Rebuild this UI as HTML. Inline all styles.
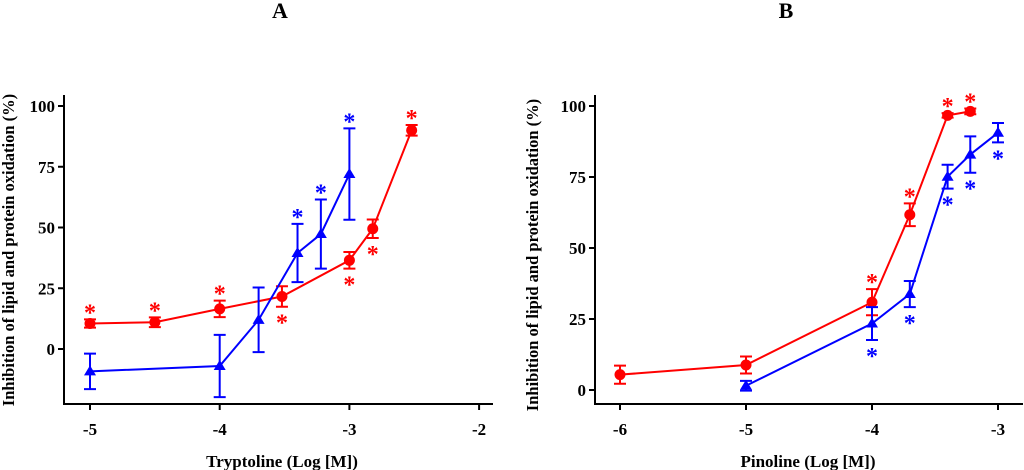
<!DOCTYPE html>
<html><head><meta charset="utf-8"><style>
body{margin:0;background:#fff;}
svg{display:block;}
svg text{font-family:"Liberation Serif","Times New Roman",serif;font-weight:bold;}
</style></head><body>
<svg id="chart" width="1024" height="470" viewBox="0 0 1024 470"></svg>
<script>
// Panel A data (Tryptoline)
const aRedX=[-5,-4.5,-4,-3.52,-3,-2.82,-2.52];
const aRedY=[10.5,11,16.5,21.6,36.5,49.5,90];
const aRedE=[1.7,2,3.4,4.2,3.4,3.8,2.2];
const aRedStar=[1,1,1,-1,-1,-1,1];
const aBlueX=[-5,-4,-3.7,-3.4,-3.22,-3];
const aBlueY=[-9.2,-7,12,39.5,47.3,72];
const aBlueE=[7.3,12.8,13.3,12,14.2,18.8];
const aBlueStar=[0,0,0,1,1,1];
const aXTicks=[-5,-4,-3,-2];
const aYTicks=[0,25,50,75,100];
// Panel B data (Pinoline)
const bRedX=[-6,-5,-4,-3.7,-3.4,-3.22];
const bRedY=[5.4,8.8,30.9,61.7,96.7,98.1];
const bRedE=[3.2,3,4.6,4,0.8,1];
const bRedStar=[0,0,1,1,1,1];
const bBlueX=[-5,-4,-3.7,-3.4,-3.22,-3];
const bBlueY=[1.5,23.4,33.8,75.1,82.9,90.6];
const bBlueE=[1.7,5.8,4.6,4.2,6.4,3.4];
const bBlueStar=[0,-1,-1,-1,-1,-1];
const bXTicks=[-6,-5,-4,-3];
const bYTicks=[0,25,50,75,100];

const svg=document.getElementById('chart');
const NS='http://www.w3.org/2000/svg';
function mk(tag,attrs,parent){const e=document.createElementNS(NS,tag);for(const k in attrs)e.setAttribute(k,attrs[k]);(parent||svg).appendChild(e);return e;}
const SERIF='Liberation Serif, serif';

function panel(p){
  const g=mk('g',{});
  
  
  const sx=v=>p.x0+(v-p.xv0)*p.xs;
  const sy=v=>p.y0-v*p.ys;
  const t=mk('text',{x:p.titleX,y:18,'text-anchor':'middle','font-size':22,'font-family':SERIF},g);t.textContent=p.title;
  
  const ax=mk('path',{d:`M${p.axL},${p.axT}V${p.axB}H${p.axR}`,stroke:'#000','stroke-width':2,fill:'none'},g);
  
  p.xt.forEach(v=>{
    mk('line',{x1:sx(v),x2:sx(v),y1:p.axB,y2:p.axB+6,stroke:'#000','stroke-width':2},g);
    const l=mk('text',{x:sx(v),y:p.axB+31,'text-anchor':'middle','font-size':17,'font-family':SERIF},g);l.textContent=v;
    
  });
  p.yt.forEach(v=>{
    mk('line',{x1:p.axL-6,x2:p.axL,y1:sy(v),y2:sy(v),stroke:'#000','stroke-width':2},g);
    const l=mk('text',{x:p.axL-9,y:sy(v)+6,'text-anchor':'end','font-size':17,'font-family':SERIF},g);l.textContent=v;
    
  });
  const xl=mk('text',{x:p.xlX,y:467,'text-anchor':'middle','font-size':17,'font-family':SERIF},g);xl.textContent=p.xlabel;
  
  const yl=mk('text',{x:0,y:0,'text-anchor':'middle','font-size':16.5,'font-family':SERIF,transform:`translate(${p.ylX},${p.ylY}) rotate(-90)`},g);yl.textContent='Inhibition of lipid and protein oxidation (%)';
  
  p.series.forEach(s=>{
    const sg=mk('g',{},g);
    
    
    mk('polyline',{points:s.X.map((x,i)=>sx(x)+','+sy(s.Y[i])).join(' '),fill:'none',stroke:s.c,'stroke-width':2},sg);
    s.X.forEach((x,i)=>{
      const cx=sx(x),cy=sy(s.Y[i]),t1=sy(s.Y[i]+s.E[i]),b1=sy(s.Y[i]-s.E[i]);
      mk('path',{d:`M${cx},${t1}V${b1}M${cx-6},${t1}H${cx+6}M${cx-6},${b1}H${cx+6}`,stroke:s.c,'stroke-width':2,fill:'none'},sg);
      let m;
      if(s.tri) m=mk('polygon',{points:`${cx},${cy-6} ${cx-6},${cy+4} ${cx+6},${cy+4}`,fill:s.c},sg);
      else m=mk('circle',{cx:cx,cy:cy,r:5.5,fill:s.c},sg);
      
      const st=s.S[i];
      if(st){
        const yy=st>0?t1+1:b1+24;
        const a=mk('text',{x:cx,y:yy,'text-anchor':'middle','font-size':24,fill:s.c,'font-family':SERIF},sg);a.textContent='*';
        
      }
    });
  });
}
panel({id:'a',title:'A',titleX:280,x0:90,xv0:-5,xs:129.7,y0:349,ys:2.43,axL:64,axR:493,axT:95,axB:404,
  xt:aXTicks,yt:aYTicks,xlabel:'Tryptoline (Log [M])',xlX:282,ylX:14,ylY:250,
  series:[{name:'red-series',c:'#f00',X:aRedX,Y:aRedY,E:aRedE,S:aRedStar},
          {name:'blue-series',c:'#00f',tri:true,X:aBlueX,Y:aBlueY,E:aBlueE,S:aBlueStar}]});
panel({id:'b',title:'B',titleX:786,x0:620,xv0:-6,xs:126,y0:390,ys:2.84,axL:595,axR:1023,axT:95,axB:404,
  xt:bXTicks,yt:bYTicks,xlabel:'Pinoline (Log [M])',xlX:808,ylX:538,ylY:255,
  series:[{name:'red-series',c:'#f00',X:bRedX,Y:bRedY,E:bRedE,S:bRedStar},
          {name:'blue-series',c:'#00f',tri:true,X:bBlueX,Y:bBlueY,E:bBlueE,S:bBlueStar}]});
</script>
</body></html>
